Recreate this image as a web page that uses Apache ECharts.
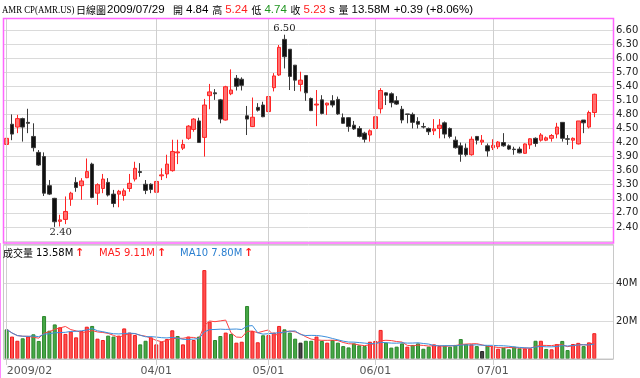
<!DOCTYPE html>
<html>
<head>
<meta charset="utf-8">
<title>AMR CP 日線圖</title>
<script src="https://cdn.jsdelivr.net/npm/echarts@6/dist/echarts.min.js"></script>
<style>
  html, body { margin: 0; padding: 0; background: #fff; }
  #main { width: 640px; height: 378px; }
</style>
</head>
<body>
<div id="main"></div>
<script>
// 2009 交易日 (每月日期)
var feb = [20, 23, 24, 25, 26, 27];
var mar = [2, 3, 4, 5, 6, 9, 10, 11, 12, 13, 16, 17, 18, 19, 20, 23, 24, 25, 26, 27, 30, 31];
var apr = [1, 2, 3, 6, 7, 8, 9, 13, 14, 15, 16, 17, 20, 21, 22, 23, 24, 27, 28, 29, 30];
var may = [1, 4, 5, 6, 7, 8, 11, 12, 13, 14, 15, 18, 19, 20, 21, 22, 26, 27, 28, 29];
var jun = [1, 2, 3, 4, 5, 8, 9, 10, 11, 12, 15, 16, 17, 18, 19, 22, 23, 24, 25, 26, 29, 30];
var jul = [1, 2, 6, 7, 8, 9, 10, 13, 14, 15, 16, 17, 20, 21, 22, 23, 24, 27, 28, 29];

// 格線與日期標籤
var tickDates = ['2009/02/20', '2009/04/01', '2009/05/01', '2009/06/01', '2009/07/01'];
var tickLabels = ['2009/02', '04/01', '05/01', '06/01', '07/01'];

// 開 收 低 高
var open = [4.16, 4.59, 4.53, 4.71, 4.63, 4.33, 3.99, 3.90, 3.28, 3.01,
  2.52, 2.56, 2.99, 3.35, 3.28, 3.45, 3.74, 3.12, 3.22, 3.35,
  3.10, 3.10, 3.07, 3.22, 3.42, 3.58, 3.31, 3.31, 3.14, 3.49,
  3.53, 3.60, 3.98, 4.08, 4.29, 4.48, 4.66, 4.31, 5.20, 5.26,
  5.11, 4.68, 5.24, 5.57, 5.55, 4.77, 4.54, 4.95, 5.00, 4.86,
  5.37, 5.64, 6.40, 6.19, 5.85, 5.44, 5.63, 5.14, 5.00, 5.11,
  5.00, 5.09, 5.12, 4.73, 4.73, 4.57, 4.50, 4.40, 4.36, 4.50,
  4.92, 5.26, 5.24, 5.09, 4.91, 4.81, 4.80, 4.65, 4.54, 4.50,
  4.45, 4.50, 4.62, 4.50, 4.25, 4.13, 4.08, 3.94, 4.33, 4.21,
  4.13, 4.09, 4.11, 4.20, 4.13, 4.06, 4.06, 3.97, 4.15, 4.29,
  4.25, 4.25, 4.29, 4.38, 4.63, 4.28, 4.25, 4.17, 4.68, 4.53,
  4.84];
var close = [4.29, 4.38, 4.71, 4.53, 4.61, 4.09, 3.72, 3.12, 3.10, 2.51,
  2.55, 2.73, 3.12, 3.24, 3.38, 3.58, 3.03, 3.30, 3.42, 3.08,
  2.90, 3.16, 3.17, 3.33, 3.65, 3.56, 3.18, 3.20, 3.37, 3.51,
  3.74, 4.01, 4.00, 4.16, 4.55, 4.70, 4.20, 5.00, 5.28, 5.24,
  4.70, 5.39, 5.32, 5.40, 5.42, 4.70, 4.74, 4.89, 4.75, 5.18,
  5.62, 6.23, 6.03, 5.61, 5.53, 5.53, 5.26, 4.88, 5.02, 4.82,
  5.04, 5.00, 4.81, 4.61, 4.54, 4.49, 4.33, 4.27, 4.45, 4.75,
  5.31, 5.21, 5.05, 5.02, 4.68, 4.80, 4.63, 4.59, 4.53, 4.43,
  4.49, 4.57, 4.38, 4.33, 4.09, 3.95, 3.94, 4.27, 4.25, 4.25,
  4.02, 4.14, 4.21, 4.13, 4.06, 4.05, 3.98, 4.17, 4.28, 4.18,
  4.36, 4.30, 4.35, 4.53, 4.29, 4.27, 4.29, 4.66, 4.62, 4.84,
  5.23];
var low = [3.90, 4.25, 4.40, 4.22, 4.40, 4.01, 3.70, 3.06, 3.08, 2.40,
  2.41, 2.46, 2.85, 3.15, 2.98, 3.44, 3.01, 2.87, 3.12, 3.05,
  2.82, 2.82, 2.96, 3.15, 3.37, 3.47, 3.10, 3.12, 3.12, 3.40,
  3.44, 3.58, 3.74, 4.04, 4.26, 4.43, 4.20, 3.90, 4.91, 5.11,
  4.61, 4.67, 5.21, 5.31, 5.31, 4.36, 4.53, 4.86, 4.74, 4.82,
  5.29, 5.62, 5.78, 5.32, 5.30, 5.29, 5.09, 4.87, 4.55, 4.80,
  4.79, 4.95, 4.79, 4.60, 4.43, 4.47, 4.31, 4.20, 4.22, 4.49,
  4.82, 5.00, 4.95, 5.00, 4.61, 4.61, 4.50, 4.50, 4.50, 4.36,
  4.36, 4.29, 4.29, 4.29, 4.07, 3.79, 3.90, 3.92, 4.16, 4.15,
  3.90, 4.04, 4.06, 4.11, 4.04, 3.94, 3.97, 3.96, 4.06, 4.11,
  4.22, 4.23, 4.22, 4.29, 4.22, 4.15, 4.06, 4.16, 4.40, 4.50,
  4.74];
var high = [4.47, 4.80, 4.79, 4.73, 4.92, 4.61, 4.04, 3.99, 3.40, 3.02,
  2.66, 3.05, 3.15, 3.46, 3.44, 3.86, 3.77, 3.33, 3.53, 3.44,
  3.19, 3.19, 3.22, 3.53, 3.79, 3.76, 3.40, 3.33, 3.40, 3.65,
  3.94, 4.26, 4.26, 4.26, 4.57, 4.72, 4.73, 5.13, 5.45, 5.34,
  5.13, 5.41, 5.76, 5.64, 5.59, 4.98, 5.16, 5.04, 5.07, 5.19,
  5.68, 6.28, 6.50, 6.19, 5.85, 5.71, 5.63, 5.16, 5.32, 5.21,
  5.05, 5.21, 5.18, 4.82, 4.74, 4.66, 4.55, 4.43, 4.48, 4.82,
  5.36, 5.27, 5.27, 5.19, 4.98, 4.81, 4.84, 4.74, 4.62, 4.52,
  4.70, 4.70, 4.65, 4.52, 4.33, 4.20, 4.18, 4.33, 4.34, 4.36,
  4.18, 4.27, 4.23, 4.40, 4.16, 4.11, 4.11, 4.18, 4.29, 4.31,
  4.40, 4.33, 4.38, 4.62, 4.63, 4.36, 4.31, 4.66, 4.68, 4.88,
  5.24];
// 成交量 (百萬股)
var volume = [15.6, 11.8, 9.6, 10.9, 11.8, 13.0, 9.5, 22.6, 14.9, 18.2,
  16.7, 13.2, 14.4, 11.4, 14.7, 17.0, 17.4, 10.7, 10.0, 12.3,
  11.8, 12.3, 16.1, 13.9, 12.6, 7.7, 9.6, 11.4, 7.7, 9.1,
  10.5, 15.1, 12.1, 7.7, 11.8, 10.0, 11.8, 46.8, 19.6, 10.0,
  12.1, 13.9, 13.2, 8.6, 9.1, 27.9, 14.7, 8.8, 12.5, 12.6,
  13.9, 17.4, 15.6, 13.9, 10.7, 8.6, 9.6, 9.6, 11.8, 9.5,
  8.6, 10.0, 8.6, 6.8, 6.1, 8.2, 7.2, 6.8, 9.1, 9.5,
  15.3, 8.6, 6.0, 6.5, 8.2, 6.5, 7.4, 8.2, 5.4, 6.5,
  7.7, 6.8, 7.0, 6.5, 7.4, 10.5, 7.9, 7.7, 6.8, 4.2,
  7.0, 6.8, 5.4, 6.0, 5.1, 6.5, 5.6, 5.6, 5.6, 9.6,
  9.6, 5.3, 5.1, 7.9, 9.5, 4.7, 7.9, 8.5, 6.8, 8.75,
  13.58];
var prevClose = 4.40; // 2009/02/19 收盤 (估計)

var RED = '#ff2020', GREEN = '#1f951f', BLUE = '#2a7fd0';

var dates = [];
[['02', feb], ['03', mar], ['04', apr], ['05', may], ['06', jun], ['07', jul]].forEach(function (m) {
  m[1].forEach(function (d) { dates.push('2009/' + m[0] + '/' + (d < 10 ? '0' + d : d)); });
});

var candles = dates.map(function (d, i) { return [open[i], close[i], low[i], high[i]]; });

var volBars = volume.map(function (v, i) {
  var prev = i === 0 ? prevClose : close[i - 1];
  var st = close[i] > prev ? { color: '#ff5050', borderColor: '#f01c1c' }
    : close[i] < prev ? { color: '#46a846', borderColor: '#2c862c' }
    : { color: '#444', borderColor: '#222' };
  st.borderWidth = 1;
  return { value: v, itemStyle: st };
});

function movingAvg(n) {
  return volume.map(function (v, i) {
    var s = 0, c = 0;
    for (var j = Math.max(0, i - n + 1); j <= i; j++) { s += volume[j]; c++; }
    return +(s / c).toFixed(3);
  });
}
var ma5 = movingAvg(5), ma10 = movingAvg(10);

var last = dates.length - 1;
var chg = close[last] - close[last - 1];
function arrow(a, b) { return a >= b ? '↑' : '↓'; }

var CJK = '"Noto Sans CJK TC"';
var NUM = '"Liberation Sans"';
function txt(x, y, s, color, size, family, extra) {
  var e = { type: 'text', x: x, y: y, z: 20, silent: true,
    style: { text: s, fill: color, fontSize: size, fontFamily: family, verticalAlign: 'middle' } };
  if (extra) for (var k in extra) e[k] = extra[k];
  return e;
}
function arrowTxt(x, y, s) {
  var e = txt(x, y, s, RED, 11, '"DejaVu Sans"');
  e.style.fontWeight = 'bold';
  return e;
}

// 標題列: 依字寬排版, 從 x=173 排到 x=473
var measure = document.createElement('canvas').getContext('2d');
function width(s, size, family) { measure.font = size + 'px ' + family; return measure.measureText(s).width; }
var sign = chg >= 0 ? '+' : '';
var quoteGroups = [
  [['開', '#000', 10, CJK], ['4.84'.replace('4.84', open[last].toFixed(2)), '#000', 11.5, NUM]],
  [['高', '#000', 10, CJK], [high[last].toFixed(2), RED, 11.5, NUM]],
  [['低', '#000', 10, CJK], [low[last].toFixed(2), GREEN, 11.5, NUM]],
  [['收', '#000', 10, CJK], [close[last].toFixed(2), RED, 11.5, NUM], ['s', '#000', 11.5, NUM]],
  [['量', '#000', 10, CJK], [volume[last].toFixed(2) + 'M', '#000', 11.5, NUM]],
  [[sign + chg.toFixed(2) + ' (' + sign + (chg / close[last - 1] * 100).toFixed(2) + '%)', '#000', 11.5, NUM]]
];
var innerGap = 3, startX = 173, endX = 473, total = 0, pieces = 0;
quoteGroups.forEach(function (g) {
  g.forEach(function (p) { total += width(p[0], p[2], p[3]); pieces++; });
});
var groupGap = (endX - startX - total - (pieces - quoteGroups.length) * innerGap) / (quoteGroups.length - 1);

var graphics = [
  { type: 'rect', z: 19, silent: true, shape: { x: 3.5, y: 244.5, width: 610, height: 114.5 },
    style: { fill: 'none', stroke: '#c8c8c8', lineWidth: 1 } },
  { type: 'rect', z: 19, silent: true, shape: { x: 3.5, y: 18.5, width: 610, height: 224.5 },
    style: { fill: 'none', stroke: '#ff66ff', lineWidth: 1.5 } },
  { type: 'line', z: 19, silent: true, shape: { x1: 0.5, y1: 243, x2: 0.5, y2: 378 },
    style: { stroke: '#ff88ff', lineWidth: 1 } },
  txt(2, 10, 'AMR CP(AMR.US)', '#000', 11, '"Liberation Serif"', { scaleX: 0.8 }),
  txt(76, 10, '日線圖', '#000', 10, CJK),
  txt(107, 10, '2009/07/29', '#000', 11.5, NUM)
];
var cx = startX;
quoteGroups.forEach(function (g) {
  g.forEach(function (p, k) {
    graphics.push(txt(cx, 10, p[0], p[1], p[2], p[3]));
    cx += width(p[0], p[2], p[3]) + (k < g.length - 1 ? innerGap : 0);
  });
  cx += groupGap;
});
graphics.push(
  txt(3, 253, '成交量', '#000', 10, CJK),
  txt(36, 253, volume[last].toFixed(2) + 'M', '#000', 10, '"DejaVu Sans"'),
  arrowTxt(75, 253, arrow(volume[last], volume[last - 1])),
  txt(99, 253, 'MA5 ' + ma5[last].toFixed(2) + 'M', RED, 10, '"DejaVu Sans"'),
  arrowTxt(157, 253, arrow(ma5[last], ma5[last - 1])),
  txt(180, 253, 'MA10 ' + ma10[last].toFixed(2) + 'M', BLUE, 10, '"DejaVu Sans"'),
  arrowTxt(244, 253, arrow(ma10[last], ma10[last - 1]))
);

function catAxis(gridIndex, extra) {
  var a = { type: 'category', gridIndex: gridIndex, data: dates, max: dates.length + 2, boundaryGap: true,
    axisLine: { show: false }, axisTick: { show: false }, axisLabel: { show: false }, splitLine: { show: false } };
  if (extra) for (var k in extra) a[k] = extra[k];
  return a;
}

var chart = echarts.init(document.getElementById('main'));
chart.setOption({
  animation: false,
  backgroundColor: '#fff',
  grid: [
    { left: 4, top: 30, width: 609, height: 211, outerBoundsMode: 'none' },
    { left: 4, top: 245, width: 609, height: 114, outerBoundsMode: 'none' },
    { left: 4, top: 19, width: 609, height: 346, outerBoundsMode: 'none' }
  ],
  xAxis: [
    catAxis(0),
    catAxis(1, {
      axisLine: { show: true, lineStyle: { color: '#c0c0c0', width: 1 } },
      axisLabel: {
        show: true, color: '#555', fontSize: 11, fontFamily: 'DejaVu Sans', margin: 7,
        alignMinLabel: 'left',
        interval: function (i, v) { return tickDates.indexOf(v) >= 0; },
        formatter: function (v) { return tickLabels[tickDates.indexOf(v)]; }
      }
    }),
    catAxis(2)
  ],
  yAxis: [
    { type: 'value', gridIndex: 0, position: 'right', min: 2.10, max: 6.60, interval: 0.30,
      axisLine: { show: false }, axisTick: { show: false },
      axisLabel: { color: '#222', fontSize: 10, fontFamily: 'DejaVu Sans', margin: 3, showMinLabel: false,
        formatter: function (v) { return v.toFixed(2); } },
      splitLine: { lineStyle: { color: '#dadada', width: 1 } } },
    { type: 'value', gridIndex: 1, position: 'right', min: 0, max: 60, interval: 20,
      axisLine: { show: false }, axisTick: { show: false },
      axisLabel: { color: '#222', fontSize: 10, fontFamily: 'DejaVu Sans', margin: 3,
        showMinLabel: false, showMaxLabel: false, formatter: function (v) { return v + 'M'; } },
      splitLine: { lineStyle: { color: '#dadada', width: 1 } } },
    { type: 'value', gridIndex: 2, min: 0, max: 1, show: false }
  ],
  series: [
    {
      type: 'line', xAxisIndex: 2, yAxisIndex: 2, data: [], z: 1, silent: true,
      markLine: {
        silent: true, symbol: ['none', 'none'], label: { show: false },
        lineStyle: { color: '#cfcfcf', type: 'solid', width: 1 },
        data: tickDates.map(function (d) { return { xAxis: d }; })
      }
    },
    {
      type: 'candlestick', name: 'AMR', xAxisIndex: 0, yAxisIndex: 0, data: candles, barWidth: 4, z: 3,
      itemStyle: { color: '#ff7070', borderColor: '#ff2424', color0: '#111', borderColor0: '#3a3a3a', borderWidth: 1 },
      markPoint: {
        symbol: 'circle', symbolSize: 0, silent: true,
        label: { show: true, color: '#222', fontSize: 10, fontFamily: 'DejaVu Serif',
          formatter: function (p) { return (+p.value).toFixed(2); } },
        data: [
          { type: 'max', valueDim: 'highest', label: { position: 'top', distance: 1 } },
          { type: 'min', valueDim: 'lowest', label: { position: 'bottom', distance: 0, offset: [6, 0] } }
        ]
      }
    },
    { type: 'bar', name: '成交量', xAxisIndex: 1, yAxisIndex: 1, data: volBars, barWidth: 4, z: 3 },
    { type: 'line', name: 'MA5', xAxisIndex: 1, yAxisIndex: 1, data: ma5, symbol: 'none', z: 4,
      lineStyle: { color: '#ff4040', width: 1 } },
    { type: 'line', name: 'MA10', xAxisIndex: 1, yAxisIndex: 1, data: ma10, symbol: 'none', z: 4,
      lineStyle: { color: '#3b8fdc', width: 1 } }
  ],
  graphic: graphics
});
</script>
</body>
</html>
